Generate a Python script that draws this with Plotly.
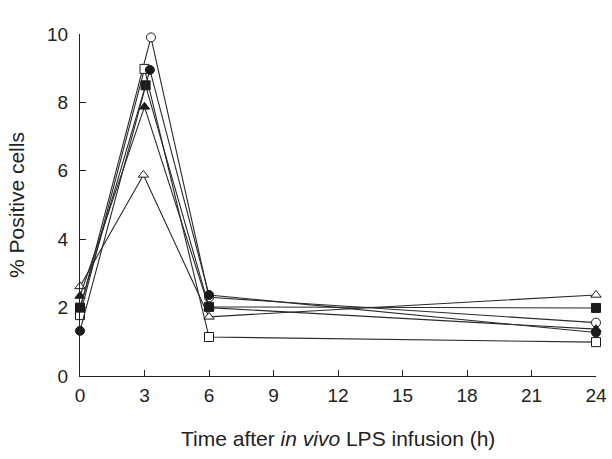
import plotly.graph_objects as go

# Series data: (x positions, y values)
open_circle_x = [0, 3.3, 6, 24]
open_circle_y = [1.95, 9.9, 2.3, 1.56]
filled_circle_x = [0, 3.25, 6, 24]
filled_circle_y = [1.32, 8.95, 2.37, 1.27]
open_square_x = [0, 3.0, 6, 24]
open_square_y = [1.78, 8.98, 1.14, 0.99]
filled_square_x = [0, 3.05, 6, 24]
filled_square_y = [2.0, 8.5, 2.02, 1.99]
filled_triangle_x = [0, 3.0, 6, 24]
filled_triangle_y = [2.34, 7.87, 2.0, 1.37]
open_triangle_x = [0, 2.95, 6, 24]
open_triangle_y = [2.62, 5.88, 1.73, 2.37]

x_ticks = [0, 3, 6, 9, 12, 15, 18, 21, 24]
y_ticks = [0, 2, 4, 6, 8, 10]

series = [
    (open_circle_x, open_circle_y, "circle-open"),
    (open_triangle_x, open_triangle_y, "triangle-up-open"),
    (filled_triangle_x, filled_triangle_y, "triangle-up"),
    (open_square_x, open_square_y, "square-open"),
    (filled_square_x, filled_square_y, "square"),
    (filled_circle_x, filled_circle_y, "circle"),
]

fig = go.Figure()
for xs, ys, sym in series:
    is_open = sym.endswith("open")
    fig.add_trace(go.Scatter(
        x=xs, y=ys, mode="lines+markers",
        line=dict(color="#2a2a2a", width=1.1),
        marker=dict(
            symbol=sym.replace("-open", "") if is_open else sym,
            size=9,
            color="white" if is_open else "#1a1a1a",
            line=dict(color="#1a1a1a", width=1),
        ),
        cliponaxis=False,
        showlegend=False,
    ))

font = "Liberation Sans, Arial, Helvetica, sans-serif"
fig.update_layout(
    width=612, height=459,
    margin=dict(l=80, r=16, t=34, b=83),
    paper_bgcolor="white", plot_bgcolor="white",
    font=dict(family=font, size=19, color="#222"),
    annotations=[dict(
        text="Time after <i>in vivo</i> LPS infusion (h)",
        xref="paper", yref="paper", x=0.5, y=0, yshift=-62,
        xanchor="center", yanchor="middle", showarrow=False,
        font=dict(size=21, color="#222"),
    )],
)
fig.update_xaxes(
    range=[0, 24], tickvals=x_ticks, ticks="inside", ticklen=6,
    tickcolor="#222", showline=True, linecolor="#222", linewidth=1.2,
    showgrid=False, zeroline=False, tickfont=dict(size=19),
    ticklabelstandoff=2, automargin=False,
)
fig.update_yaxes(
    range=[0, 10], tickvals=y_ticks, ticks="inside", ticklen=6,
    tickcolor="#222", showline=True, linecolor="#222", linewidth=1.2,
    showgrid=False, zeroline=False, tickfont=dict(size=19),
    ticklabelstandoff=7, automargin=False,
    title=dict(text="% Positive cells", standoff=16, font=dict(size=21)),
)
fig.write_html("out.html",
               config={"displayModeBar": False},
               post_script="document.body.style.margin='0';"
                           "document.body.style.overflow='hidden';")
